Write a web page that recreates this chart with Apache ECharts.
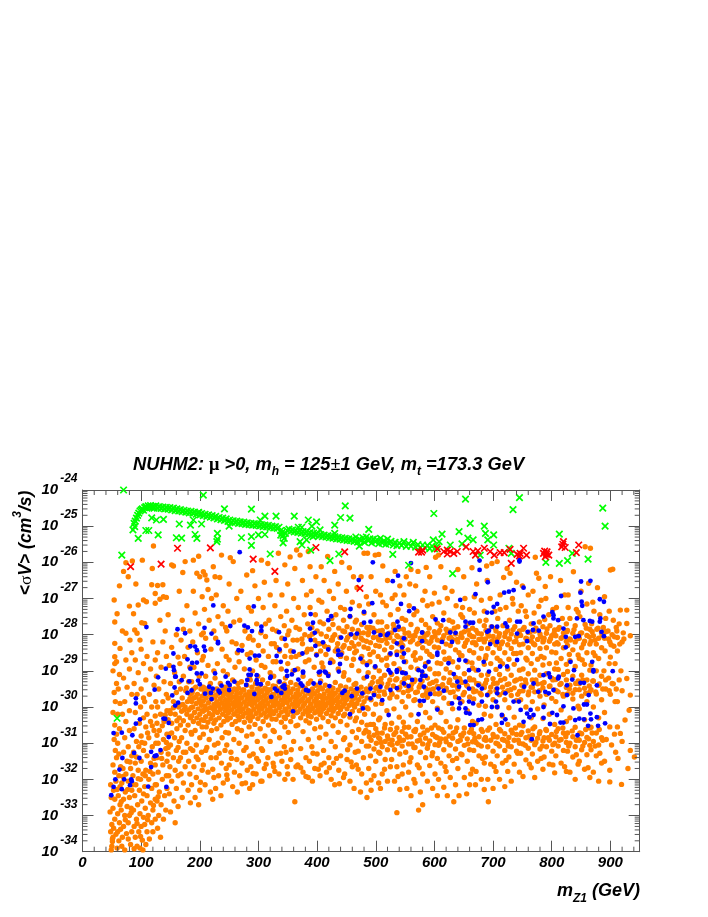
<!DOCTYPE html>
<html>
<head>
<meta charset="utf-8">
<script src="https://cdn.jsdelivr.net/npm/echarts@6/dist/echarts.min.js"></script>
<style>
html,body{margin:0;padding:0;background:#fff}
#main{width:708px;height:917px}
</style>
</head>
<body>
<div id="main"></div>
<script>
const xTicks = [0,100,200,300,400,500,600,700,800,900]
const decades = [-34,-33,-32,-31,-30,-29,-28,-27,-26,-25,-24]
// flat lists: mZ1, then -100*log10(<sigma v>)
const greenRaw = [
70,2400,206,2414,242,2452,288,2453,89,2501,95,2534,108,2512,113,2512,129,2524,118,2477,126,2483,138,2481,160,2532,169,2533,165,2494,184,2497,192,2523,195,2534,189,2483,198,2462,203,2494,230,2520,230,2536,229,2543,250,2500,271,2532,288,2529,288,2553,300,2524,311,2523,303,2483,311,2472,330,2472,320,2577,342,2546,338,2525,361,2472,368,2503,374,2503,371,2543,382,2538,374,2552,389,2566,385,2483,391,2500,399,2488,393,2529,405,2510,430,2497,440,2476,448,2444,456,2478,430,2520,437,2577,422,2595,67,2580,59,3031,
653,2425,745,2421,734,2454,599,2465,887,2450,891,2500,661,2492,685,2500,687,2520,701,2524,691,2538,701,2552,642,2515,657,2533,666,2538,647,2549,613,2522,488,2509,472,2555,813,2522,529,2578,556,2608,631,2631,678,2580,727,2561,731,2575,790,2600,813,2603,827,2595,835,2575,862,2591,627,2552,598,2538,608,2543,
86,2510,88,2492,90,2486,92,2478,94,2470,96,2464,98,2458,100,2455,102,2452,104,2456,106,2449,108,2446,110,2450,112,2444,114,2448,116,2443,118,2449,120,2445,122,2450,125,2444,128,2450,131,2446,134,2451,137,2447,140,2452,143,2448,146,2453,149,2449,152,2455,155,2450,158,2457,161,2452,164,2458,167,2454,170,2460,173,2456,176,2461,179,2458,182,2463,185,2459,188,2464,191,2461,194,2467,197,2463,200,2469,203,2465,206,2471,209,2467,212,2473,215,2469,218,2475,221,2471,224,2477,227,2473,230,2480,233,2476,236,2482,239,2478,242,2484,245,2480,248,2487,251,2483,254,2489,257,2485,260,2490,263,2486,266,2492,269,2488,272,2493,275,2489,278,2495,281,2491,284,2496,287,2492,290,2497,293,2493,296,2498,299,2494,302,2499,305,2496,308,2501,311,2497,314,2502,317,2498,320,2504,323,2500,326,2505,329,2501,332,2506,335,2503,338,2512,340,2518,342,2526,344,2534,346,2520,349,2512,352,2508,355,2514,358,2510,361,2516,364,2512,367,2517,370,2513,373,2519,376,2515,379,2520,382,2516,385,2522,388,2518,391,2523,394,2519,397,2525,400,2521,403,2527,406,2523,409,2529,412,2525,415,2530,418,2526,421,2532,424,2528,427,2533,430,2529,433,2535,436,2531,439,2536,442,2532,445,2538,448,2534,451,2539,454,2535,457,2540,460,2536,463,2542,466,2530,469,2544,472,2536,475,2540,478,2532,481,2545,484,2530,487,2540,490,2535,493,2546,496,2536,499,2543,502,2538,505,2548,508,2534,511,2546,514,2540,517,2550,520,2536,523,2548,526,2542,530,2552,533,2545,536,2554,540,2547,544,2553,548,2543,552,2556,556,2548,560,2555,564,2545,568,2558,572,2551,576,2560,580,2552,584,2560,588,2553,592,2562,596,2555,600,2563,604,2557]
const redRaw = [82,2612,134,2605,162,2561,218,2560,291,2591,328,2625,398,2559,447,2571,473,2672,573,2572,580,2566,605,2563,616,2570,622,2577,627,2570,633,2575,639,2570,654,2557,666,2570,670,2580,674,2568,685,2561,695,2570,702,2580,712,2573,719,2573,729,2564,731,2603,741,2578,746,2575,752,2561,757,2580,786,2575,792,2571,789,2584,795,2580,820,2543,817,2557,823,2559,842,2573,846,2552,622,2566,788,2569,745,2582,791,2578,819,2550,578,2572]
const blueRaw = [268,2572,223,2719,292,2722,109,2779,162,2785,175,2796,208,2781,220,2797,252,2776,276,2775,282,2780,289,2790,305,2778,305,2789,335,2793,345,2812,389,2743,393,2767,388,2783,396,2795,419,2760,424,2749,457,2729,456,2749,441,2808,458,2799,389,2815,397,2831,410,2821,419,2841,436,2844,436,2856,441,2855,155,2852,184,2832,192,2833,195,2843,207,2833,209,2844,231,2820,266,2843,272,2844,231,2824,285,2866,294,2858,301,2858,331,2859,336,2841,360,2847,375,2852,399,2857,179,2868,187,2878,195,2877,142,2894,155,2889,156,2898,184,2894,195,2907,226,2907,129,2918,159,2916,285,2896,297,2912,320,2920,338,2875,348,2900,362,2898,376,2902,403,2904,413,2902,422,2878,439,2881,
91,2976,91,2990,123,2952,158,2916,169,2926,153,2968,157,2946,163,2988,158,2996,179,2961,186,2954,182,2929,197,2927,200,2937,203,2907,209,2963,219,2961,216,2944,222,2949,220,2978,232,2955,234,2960,237,2941,248,2933,251,2939,250,2953,259,2930,244,2916,279,2939,281,2925,283,2911,287,2911,293,2964,297,2926,298,2935,304,2937,321,2916,322,2972,328,2949,332,2955,336,2930,341,2944,344,2940,345,2949,339,2961,349,2914,357,2910,359,3012,368,2924,372,2935,375,2941,381,2953,385,2955,376,2905,405,2902,405,2933,394,2935,415,2905,419,2914,421,2942,437,2902,443,2961,447,2955,456,3020,459,2970,
98,3034,91,3046,53,3072,67,3071,85,3078,138,3032,141,3033,147,3044,147,3083,117,3124,88,3127,97,3141,123,3136,126,3134,133,3119,68,3141,117,3166,63,3173,56,3200,71,3200,83,3200,84,3205,81,3216,53,3221,67,3227,112,3220,143,3221,49,3244,
495,2600,560,2602,677,2595,677,2621,745,2598,745,2594,529,2652,538,2637,471,2649,691,2655,644,2704,670,2688,719,2684,727,2681,735,2677,752,2670,850,2653,866,2651,816,2693,849,2684,494,2713,707,2715,701,2723,698,2739,690,2739,543,2715,557,2735,565,2727,480,2737,851,2709,852,2720,882,2702,889,2709,801,2738,803,2746,786,2750,811,2760,803,2755,843,2755,854,2760,865,2762,869,2764,883,2755,882,2764,491,2764,480,2767,537,2764,539,2778,533,2787,579,2794,602,2758,615,2760,627,2794,636,2795,653,2764,653,2778,661,2767,666,2767,690,2792,693,2789,698,2778,707,2778,721,2769,741,2764,746,2764,724,2778,741,2797,759,2792,768,2787,778,2789,769,2769,820,2783,824,2806,840,2806,846,2804,885,2792,889,2804,521,2797,497,2794,468,2797,508,2801,519,2801,548,2810,579,2818,613,2820,605,2850,605,2856,630,2820,695,2826,707,2820,758,2818,824,2835,545,2835,525,2852,536,2856,548,2852,536,2824,474,2866,485,2884,499,2888,522,2898,536,2898,548,2875,573,2898,590,2875,584,2888,624,2879,642,2870,653,2872,659,2898,684,2875,675,2898,693,2902,712,2888,724,2888,741,2870,795,2907,812,2916,838,2898,832,2875,869,2875,871,2898,
545,2905,525,2905,536,2903,551,2907,579,2902,579,2914,585,2914,576,2925,582,2944,562,2925,548,2935,556,2942,536,2948,525,2953,508,2944,497,2967,491,2949,468,2949,477,2962,491,2976,511,2981,522,3022,478,3004,575,2983,582,2983,593,2964,573,3020,605,3007,607,2949,616,2955,633,2909,639,2930,642,2944,653,2930,659,2949,675,2940,681,2949,690,2967,642,2976,630,2990,644,2990,642,3004,653,3004,659,2985,666,2990,654,3016,660,3018,661,3050,667,3050,675,3036,681,3034,681,2985,698,3000,705,2985,707,3000,715,3022,721,3034,715,3044,707,2949,707,2962,721,2962,735,2985,744,2985,747,3008,758,3018,764,3008,752,3041,762,3028,769,3022,766,3089,777,2958,753,2944,769,2935,786,2912,797,2917,811,2921,789,2958,795,2962,803,2953,786,3000,801,3016,786,3030,797,3047,809,3022,815,3043,820,3043,820,2998,826,2967,837,3004,844,3078,840,3036,847,3032,855,3034,855,2993,860,2993,866,3018,867,3034,862,3052,879,3052,877,3028,891,3045,871,2902,904,2901,849,2933,855,2933,877,2940,863,2967,826,2940,835,2924,485,2916]
const orangeRaw = [
// 45-65
54,2704,63,2665,59,2742,55,2765,55,2824,55,2861,64,2838,48,3215,49,3250,47,3290,50,3325,48,3345,52,3360,50,3385,49,3395,51,3365,53,3335,55,3310,52,3280,55,3255,53,3230,57,3205,55,3180,52,3160,58,3140,56,3120,54,3090,58,3075,55,3050,52,3015,56,2985,54,2960,58,2935,52,2900,55,2880,59,3390,62,3370,60,3345,63,3320,60,3295,64,3270,61,3245,64,3220,62,3190,65,3165,62,3130,60,3100,63,3060,60,3020,64,2990,61,2950,63,2910,58,2875,
// 65-85
70,2625,74,2601,85,2596,78,2640,80,2721,74,2796,81,2815,67,3385,72,3395,68,3360,75,3350,70,3330,78,3320,72,3300,66,3285,76,3275,70,3255,80,3250,73,3235,67,3210,78,3205,74,3185,69,3170,82,3170,76,3150,70,3125,84,3135,78,3110,72,3085,80,3065,74,3040,68,3020,80,3010,72,2985,84,2965,76,2945,70,2920,80,2895,74,2870,84,2850,68,2790,82,3380,78,3365,84,3345,80,3300,83,3280,84,3230,
// 85-105
102,2594,91,2660,87,2742,95,2718,89,2787,101,2767,93,2796,98,2815,88,3392,93,3385,98,3390,103,3395,90,3360,96,3345,102,3368,88,3330,100,3330,92,3310,98,3295,104,3305,87,3285,94,3270,101,3260,89,3245,97,3230,104,3240,91,3215,99,3200,86,3190,95,3175,103,3185,90,3155,100,3150,87,3125,96,3110,104,3120,92,3095,100,3080,88,3060,97,3045,104,3030,90,3015,99,3000,104,2975,93,2965,88,2935,100,2950,95,2905,104,2880,90,2870,100,2840,
// 105-125
121,2555,119,2617,118,2662,124,2686,124,2713,109,2709,104,2704,106,2769,108,3380,114,3365,120,3345,110,3345,118,3320,106,3325,124,3310,112,3300,120,3285,107,3280,116,3265,124,3255,110,3245,118,3225,106,3220,124,3215,113,3200,120,3185,108,3175,116,3155,124,3160,110,3135,119,3110,106,3100,125,3100,113,3085,122,3065,108,3055,116,3040,124,3025,110,3020,118,3000,125,2985,106,2985,114,2965,122,2940,108,2925,116,2895,124,2870,110,2860,120,2820,
// 125-145
128,2664,137,2662,138,2695,132,2702,143,2697,133,3360,128,3335,138,3310,130,3300,142,3285,134,3270,127,3260,140,3245,131,3235,144,3225,126,3215,136,3200,143,3190,129,3180,137,3160,144,3150,127,3140,134,3125,142,3115,129,3100,138,3090,144,3075,131,3065,127,3045,139,3040,133,3020,144,3010,128,3000,137,2985,143,2965,130,2950,139,2930,126,2915,134,2890,143,2860,128,2850,137,2820,141,2790,132,2760,
// 145-165
152,2607,155,2610,146,2745,160,2800,152,2835,163,2862,148,2885,157,2905,165,2930,150,2935,160,2960,146,2975,155,2985,164,3000,149,3010,158,3020,146,3035,165,3030,152,3045,161,3060,148,3075,157,3085,165,3095,150,3105,160,3120,146,3130,155,3140,164,3150,149,3165,158,3175,147,3190,163,3190,152,3205,160,3225,148,3240,156,3260,163,3275,150,3290,158,3320,
// 165-185
175,2598,171,2628,189,2594,165,2680,178,2720,170,2760,183,2790,168,2815,180,2835,174,2860,166,2880,183,2890,172,2915,181,2930,167,2950,176,2955,184,2965,170,2975,179,2985,166,2995,175,3000,185,3002,169,3012,178,3020,184,3030,172,3038,167,3050,180,3050,175,3065,185,3070,169,3085,178,3100,184,3115,172,3125,167,3140,181,3150,175,3165,168,3185,183,3185,172,3210,180,3230,170,3250,184,3265,
// 185-205
198,2583,195,2630,200,2640,189,2680,204,2695,192,2740,198,2770,203,2800,188,2820,196,2850,204,2870,190,2890,199,2915,186,2930,193,2945,202,2950,187,2960,196,2965,204,2970,190,2975,199,2980,186,2985,194,2990,203,2995,188,3000,197,3005,204,3010,191,3015,200,3020,186,3025,195,3030,203,3035,189,3040,198,3045,204,3055,192,3065,186,3075,200,3085,194,3105,188,3120,203,3125,197,3145,190,3165,204,3175,194,3195,186,3215,200,3230,192,3250,198,3270,
// 205-225
206,2626,209,2635,212,2649,226,2640,223,2612,214,2675,220,2700,208,2730,216,2760,224,2790,210,2810,219,2840,206,2860,214,2885,224,2900,210,2915,218,2935,206,2945,213,2950,222,2955,208,2960,217,2965,225,2970,211,2975,220,2978,206,2983,215,2988,224,2993,209,2997,218,3002,212,3006,225,3010,206,3012,216,3018,222,3022,210,3027,219,3032,207,3037,214,3042,224,3045,211,3055,220,3065,206,3075,216,3090,225,3105,210,3120,219,3140,206,3160,214,3180,224,3195,209,3215,218,3235,222,3255,
// 225-245
234,2642,237,2580,252,2587,228,2690,240,2720,231,2750,244,2780,227,2810,238,2840,245,2860,230,2880,240,2900,226,2920,235,2935,243,2945,229,2950,238,2955,245,2958,231,2963,240,2968,226,2973,235,2977,244,2980,229,2985,238,2988,245,2992,232,2996,241,3000,226,3003,235,3007,244,3010,230,3015,239,3020,245,3025,233,3030,227,3036,241,3040,236,3050,229,3060,244,3070,238,3085,231,3100,243,3120,228,3140,237,3155,245,3170,232,3190,240,3210,227,3225,236,3245,
// 245-265
257,2598,250,2660,263,2700,248,2735,258,2765,246,2790,255,2820,264,2850,250,2870,260,2890,247,2910,256,2925,265,2935,250,2945,259,2950,246,2955,254,2960,263,2963,249,2968,258,2972,265,2975,252,2980,261,2983,247,2987,256,2990,264,2993,250,2997,259,3000,246,3004,254,3008,263,3012,249,3016,258,3020,265,3025,252,3030,247,3035,261,3040,255,3048,264,3060,249,3072,258,3090,246,3105,253,3125,263,3145,250,3160,259,3180,247,3200,256,3220,264,3235,
// 265-285
280,2635,270,2680,283,2725,268,2760,277,2790,285,2805,272,2830,281,2855,267,2875,276,2895,285,2915,271,2930,280,2940,266,2948,275,2953,284,2958,269,2962,278,2966,285,2970,272,2974,281,2978,267,2982,276,2986,284,2990,270,2993,279,2997,267,3001,274,3005,283,3009,270,3013,278,3017,285,3021,273,3026,282,3030,267,3035,276,3042,284,3055,271,3065,280,3080,267,3100,275,3120,285,3135,272,3155,281,3175,268,3190,278,3210,285,3225,
// 285-305
290,2623,305,2594,294,2665,300,2700,288,2735,297,2770,304,2795,291,2815,300,2830,287,2850,296,2870,305,2885,290,2900,299,2915,286,2925,295,2935,303,2940,289,2945,298,2950,305,2955,292,2958,301,2962,287,2966,296,2970,304,2973,290,2977,299,2980,286,2985,294,2988,303,2992,289,2995,298,2999,305,3002,292,3006,301,3010,287,3014,296,3018,304,3022,290,3027,299,3032,286,3038,294,3048,303,3060,289,3075,298,3095,305,3115,291,3130,300,3150,287,3165,296,3185,304,3205,290,3215,
// 305-325
316,2603,310,2655,320,2690,308,2725,318,2760,324,2785,312,2805,322,2825,308,2845,317,2860,325,2875,311,2890,320,2905,307,2925,316,2935,325,2942,311,2948,320,2952,306,2957,315,2960,324,2965,310,2969,319,2972,325,2976,313,2980,322,2983,307,2987,316,2990,325,2994,311,2997,320,3001,306,3005,315,3009,324,3013,310,3017,319,3022,313,3028,323,3033,308,3040,317,3050,325,3065,311,3080,320,3095,307,3120,316,3140,325,3155,310,3170,319,3190,306,3205,
// 325-345
334,2575,345,2607,330,2650,340,2690,328,2720,338,2750,344,2775,331,2790,340,2810,327,2825,336,2845,345,2860,330,2875,339,2895,326,2915,335,2930,344,2936,329,2943,338,2948,345,2952,331,2957,340,2961,326,2965,335,2969,344,2973,330,2977,339,2981,345,2985,332,2989,341,2993,327,2997,336,3001,345,3005,330,3010,339,3014,326,3018,335,3023,344,3028,330,3034,339,3042,345,3055,327,3068,336,3085,344,3110,331,3130,340,3150,326,3165,335,3185,345,3200,
// 345-365
354,2585,365,2566,362,2617,350,2660,360,2700,348,2735,357,2760,364,2780,350,2800,359,2815,347,2830,355,2845,364,2860,350,2880,359,2900,346,2920,355,2932,364,2938,350,2945,359,2950,347,2955,355,2960,364,2964,350,2968,359,2972,346,2976,354,2980,363,2984,349,2988,358,2992,365,2996,352,3000,361,3004,347,3008,356,3012,365,3016,350,3021,359,3026,346,3032,355,3040,364,3052,351,3070,360,3095,347,3125,355,3145,364,3165,350,3185,359,3200,362,3262,
// 365-385
371,2580,385,2570,375,2650,382,2690,368,2725,378,2745,384,2770,370,2785,379,2800,366,2815,375,2825,384,2840,370,2855,380,2875,367,2895,376,2915,385,2935,371,2942,380,2948,367,2953,376,2958,385,2962,370,2966,379,2970,366,2974,375,2978,384,2982,370,2986,379,2990,367,2994,376,2998,385,3002,371,3006,380,3010,367,3014,376,3019,385,3024,372,3030,381,3038,367,3050,376,3068,385,3090,372,3115,381,3140,367,3160,376,3180,385,3195,
// 385-405
388,2612,398,2640,390,2680,403,2705,388,2725,397,2745,405,2765,391,2780,400,2790,387,2805,396,2815,404,2825,390,2840,399,2855,386,2870,395,2890,404,2910,389,2928,398,2940,405,2946,392,2950,401,2955,387,2960,396,2964,404,2968,390,2972,399,2976,386,2980,395,2984,404,2988,389,2992,398,2996,405,3000,392,3004,401,3008,387,3012,396,3016,405,3021,390,3027,399,3034,387,3044,396,3060,404,3085,391,3110,400,3130,387,3150,396,3170,405,3190,392,3205,
// 405-425
407,2612,418,2584,412,2650,421,2680,408,2710,417,2735,425,2755,411,2770,420,2785,407,2798,416,2805,424,2815,410,2825,419,2835,406,2845,415,2855,424,2870,410,2890,419,2910,406,2928,414,2940,423,2945,409,2950,418,2955,425,2960,412,2964,421,2968,407,2972,416,2976,424,2980,410,2984,419,2988,406,2992,415,2996,424,3000,411,3004,420,3008,407,3013,416,3018,424,3024,410,3030,419,3040,406,3055,415,3075,424,3095,411,3120,420,3140,407,3160,416,3180,424,3200,
// 425-445
430,2625,442,2600,436,2660,428,2700,440,2725,432,2745,445,2760,427,2772,437,2782,444,2790,430,2800,439,2808,426,2815,435,2825,444,2835,431,2845,440,2860,427,2875,436,2895,445,2915,431,2932,440,2942,427,2948,436,2953,445,2957,431,2962,440,2966,426,2970,435,2974,444,2978,430,2982,439,2986,426,2990,435,2994,444,2998,431,3003,440,3007,427,3012,436,3018,445,3024,431,3030,440,3040,427,3052,436,3070,445,3090,431,3110,440,3135,428,3155,437,3175,445,3195,430,3215,
// 445-465
455,2615,462,2640,450,2680,460,2710,447,2730,456,2750,465,2765,451,2778,460,2785,447,2792,456,2800,465,2808,450,2815,459,2822,446,2830,455,2838,464,2850,450,2865,459,2885,446,2905,454,2925,463,2938,449,2945,458,2950,465,2955,452,2960,461,2964,447,2968,456,2972,464,2976,450,2980,459,2985,447,2990,455,2995,464,3000,451,3005,460,3012,447,3020,456,3028,465,3038,451,3050,460,3068,447,3085,456,3105,465,3125,451,3145,460,3165,447,3185,456,3205,463,3225,
// 465-485
480,2575,486,2575,475,2640,468,2670,484,2695,472,2720,480,2740,467,2760,476,2772,485,2780,470,2788,479,2795,466,2802,475,2810,484,2818,471,2826,480,2834,467,2845,476,2860,485,2880,471,2900,480,2920,466,2935,475,2945,484,2950,470,2955,479,2960,467,2965,476,2970,485,2975,471,2980,480,2985,468,2990,477,2996,485,3002,472,3010,481,3020,467,3030,476,3042,485,3050,471,3062,480,3072,467,3085,476,3095,484,3108,470,3122,479,3140,467,3160,476,3185,484,3210,474,3235,485,3250,
// 485-505
499,2580,505,2578,492,2640,500,2680,488,2715,497,2745,504,2765,490,2780,499,2790,487,2800,496,2808,505,2815,491,2822,500,2830,487,2838,496,2848,504,2860,490,2875,499,2890,487,2905,496,2918,504,2930,491,2940,500,2948,488,2955,497,2962,505,2970,492,2980,500,2992,487,3005,496,3020,505,3035,491,3048,500,3060,488,3070,497,3078,505,3085,492,3092,501,3100,488,3108,497,3116,505,3125,491,3135,500,3150,488,3170,497,3190,505,3210,492,3230,
// 505-525
512,2610,520,2650,508,2690,518,2720,525,2745,510,2765,519,2778,506,2790,515,2800,524,2808,510,2816,519,2824,506,2832,515,2842,524,2855,510,2870,519,2885,506,2900,515,2912,524,2925,510,2935,519,2945,506,2955,515,2965,524,2975,510,2990,519,3010,507,3030,516,3048,525,3062,511,3072,520,3080,507,3088,516,3095,524,3102,511,3110,520,3118,507,3128,516,3145,525,3165,511,3185,520,3205,508,3225,
// 525-545
533,2625,541,2665,528,2700,538,2730,545,2755,530,2772,539,2785,527,2795,536,2803,545,2810,531,2818,540,2826,527,2835,536,2848,545,2862,531,2880,540,2895,527,2910,536,2922,545,2932,530,2942,539,2952,527,2962,536,2972,545,2985,531,3005,540,3028,527,3045,536,3058,545,3068,531,3076,540,3084,528,3092,537,3100,545,3108,532,3118,541,3130,527,3145,536,3165,545,3185,532,3205,541,3228,536,3292,
// 545-565
552,2640,560,2620,548,2690,557,2720,565,2745,551,2760,560,2772,547,2785,556,2795,565,2803,550,2812,559,2820,546,2830,555,2842,564,2858,551,2875,560,2890,547,2905,556,2918,565,2930,551,2940,560,2950,547,2960,556,2970,565,2982,551,3000,560,3022,547,3042,556,3056,565,3066,551,3075,560,3082,547,3092,556,3102,565,3112,551,3125,560,3140,547,3160,556,3180,565,3200,553,3225,560,3245,
// 565-585
572,2625,586,2614,568,2665,580,2705,570,2735,578,2760,585,2772,571,2785,580,2795,567,2803,576,2810,585,2818,571,2826,580,2836,567,2850,576,2865,585,2880,571,2895,580,2910,567,2925,576,2938,585,2948,571,2958,580,2968,567,2980,576,2995,585,3015,571,3040,580,3055,567,3068,576,3078,585,3086,571,3094,580,3102,567,3112,576,3125,585,3140,571,3160,580,3185,567,3210,576,3235,580,3270,573,3285,
// 585-605
602,2586,592,2640,600,2685,588,2720,597,2750,605,2768,591,2782,600,2792,587,2800,596,2808,605,2815,591,2824,600,2834,587,2846,596,2860,605,2878,592,2895,601,2908,588,2920,597,2932,605,2943,592,2953,601,2963,588,2973,597,2985,605,3003,592,3030,601,3050,588,3064,597,3076,605,3085,592,3094,601,3104,588,3114,597,3126,605,3142,592,3162,601,3185,588,3205,597,3225,605,3245,
// 605-625
607,2580,611,2612,618,2670,608,2710,616,2740,625,2760,611,2775,620,2785,607,2795,616,2803,625,2810,611,2818,620,2826,607,2836,616,2848,625,2865,611,2880,620,2895,607,2908,616,2920,625,2932,611,2943,620,2953,607,2964,616,2975,625,2990,611,3015,620,3040,607,3058,616,3070,625,3080,611,3088,620,3096,607,3106,616,3118,625,3135,611,3155,620,3178,607,3200,616,3222,622,3245,
// 625-645
640,2620,630,2680,637,2720,645,2745,631,2765,640,2778,627,2790,636,2798,645,2805,631,2813,640,2820,627,2830,636,2842,645,2858,631,2875,640,2890,627,2905,636,2918,645,2930,631,2940,640,2950,627,2960,636,2972,645,2985,631,3005,640,3035,627,3055,636,3068,645,3078,631,3086,640,3095,627,3105,636,3116,645,3130,631,3148,640,3170,627,3195,636,3215,642,3245,633,3262,
// 645-665
650,2640,664,2615,652,2700,660,2730,648,2752,657,2770,665,2782,651,2792,660,2800,647,2808,656,2815,665,2822,651,2832,660,2844,647,2858,656,2875,665,2892,651,2908,660,2920,647,2932,656,2942,665,2950,651,2960,660,2972,647,2985,656,3010,665,3040,651,3058,660,3070,647,3080,656,3088,665,3096,651,3106,660,3118,647,3132,656,3150,665,3172,651,3195,660,3215,655,3240,
// 665-685
689,2610,672,2660,680,2705,668,2740,677,2762,685,2775,671,2788,680,2798,667,2806,676,2813,685,2820,671,2828,680,2838,667,2850,676,2865,685,2882,671,2898,680,2912,667,2925,676,2936,685,2946,671,2956,680,2966,667,2978,676,2995,685,3020,671,3045,680,3062,667,3074,676,3082,685,3090,671,3098,680,3108,667,3120,676,3135,685,3155,671,3178,680,3200,685,3228,670,3215,
// 685-705
698,2603,690,2650,695,2700,703,2735,688,2760,697,2778,705,2790,691,2798,700,2805,687,2812,696,2820,705,2828,691,2838,700,2850,687,2866,696,2880,705,2896,691,2910,700,2922,687,2934,696,2945,705,2955,691,2966,700,2980,687,2998,696,3025,705,3048,691,3064,700,3076,687,3084,696,3092,705,3100,691,3110,700,3122,687,3138,696,3158,705,3178,691,3200,700,3225,692,3262,
// 705-725
707,2598,724,2617,718,2642,712,2690,722,2725,708,2755,717,2775,725,2788,711,2797,720,2805,707,2813,716,2820,725,2828,711,2838,720,2850,707,2865,716,2880,725,2895,711,2910,720,2922,707,2934,716,2945,725,2955,711,2966,720,2980,707,3000,716,3025,725,3048,711,3062,720,3074,707,3083,716,3090,725,3098,711,3108,720,3120,707,3135,716,3155,725,3178,711,3200,720,3220,
// 725-745
729,2630,740,2655,733,2700,743,2735,728,2760,737,2778,745,2790,731,2798,740,2805,727,2812,736,2820,745,2828,731,2838,740,2852,727,2868,736,2882,745,2898,731,2912,740,2925,727,2936,736,2947,745,2957,731,2968,740,2982,727,3002,736,3028,745,3050,731,3064,740,3076,727,3084,736,3092,745,3100,731,3110,740,3122,727,3138,736,3158,745,3180,731,3205,
// 745-765
772,2586,750,2665,760,2690,748,2720,757,2750,765,2770,751,2785,760,2794,747,2802,756,2810,765,2818,751,2826,760,2836,747,2850,756,2865,765,2880,751,2895,760,2908,747,2922,756,2934,765,2945,751,2955,760,2966,747,2980,756,3000,765,3030,751,3052,760,3066,747,3076,756,3085,765,3092,751,3102,760,3114,747,3128,756,3146,765,3168,751,3192,
// 765-785
774,2630,778,2644,768,2680,782,2705,770,2740,779,2765,785,2778,771,2790,780,2798,767,2806,776,2813,785,2820,771,2828,780,2838,767,2852,776,2868,785,2884,771,2898,780,2912,767,2925,776,2936,785,2947,771,2958,780,2970,767,2985,776,3005,785,3032,771,3055,780,3068,767,3078,776,3086,785,3094,771,3104,780,3116,767,3130,776,3150,785,3172,771,3195,
// 785-805
789,2667,798,2640,790,2700,802,2730,788,2758,797,2775,805,2787,791,2796,800,2803,787,2810,796,2818,805,2826,791,2836,800,2848,787,2864,796,2880,805,2895,791,2908,800,2920,787,2932,796,2943,805,2953,791,2964,800,2976,787,2994,796,3020,805,3048,791,3065,800,3076,787,3085,796,3092,805,3100,791,3110,800,3122,787,3138,796,3158,805,3182,
// 805-825
815,2650,822,2690,808,2725,818,2755,825,2770,811,2785,820,2795,807,2803,816,2810,825,2818,811,2826,820,2836,807,2850,816,2866,825,2882,811,2896,820,2910,807,2924,816,2935,825,2946,811,2958,820,2970,807,2985,816,3008,825,3040,811,3060,820,3072,807,3082,816,3090,825,3098,811,3108,820,3120,807,3135,816,3155,825,3178,
// 825-845
837,2626,828,2690,842,2730,831,2755,840,2775,827,2788,836,2796,845,2804,831,2812,840,2820,827,2830,836,2842,845,2856,831,2872,840,2888,827,2902,836,2915,845,2928,831,2940,840,2952,827,2964,836,2978,845,2998,831,3030,840,3056,827,3072,836,3082,845,3090,831,3100,840,3110,827,3122,836,3138,845,3158,831,3180,840,3200,
// 845-865
857,2557,863,2658,850,2680,860,2715,848,2750,857,2772,865,2785,851,2795,860,2802,847,2810,856,2818,865,2826,851,2836,860,2850,847,2866,856,2882,865,2898,851,2912,860,2925,847,2936,856,2948,865,2958,851,2970,860,2985,847,3005,856,3035,865,3058,851,3074,860,3084,847,3092,856,3098,865,3106,851,3118,860,3132,847,3150,856,3172,865,3195,
// 865-885
866,2561,878,2670,870,2710,882,2745,868,2770,877,2785,885,2795,871,2803,880,2810,867,2818,876,2826,885,2836,871,2850,880,2866,867,2884,876,2900,885,2915,871,2928,880,2940,867,2952,876,2964,885,2980,871,3000,880,3030,867,3056,876,3072,885,3085,871,3095,880,3105,867,3118,876,3135,885,3155,871,3180,880,3205,
// 885-950
900,2621,904,2619,890,2695,898,2735,905,2760,888,2780,896,2790,903,2800,890,2810,899,2820,906,2832,891,2845,900,2862,908,2880,889,2900,897,2920,905,2936,892,2950,900,2965,908,2985,890,3015,899,3055,907,3075,893,3090,902,3105,909,3125,890,3150,899,3175,899,3207,917,2732,928,2732,928,2769,934,2803,915,2770,922,2795,912,2808,920,2820,912,2845,928,2921,918,2900,934,2967,920,2955,912,2985,932,3009,925,3036,912,3055,917,3073,934,3120,941,3138,913,3142,920,3095,919,3214,930,3170]
// second pass over the crowded patches
const orangeExtra = [
51,3372,57,3352,65,3338,73,3312,83,3292,93,3322,99,3358,111,3312,121,3272,129,3248,66,3262,77,3228,86,3215,95,3198,107,3190,115,3178,122,3142,135,3142,146,3112,59,3228,69,3192,81,3152,92,3138,101,3098,111,3072,119,3052,127,3078,136,3052,141,3022,150,3018,155,3002,161,3038,152,3072,163,3112,143,3098,
171,2993,177,2947,183,2977,189,2951,173,3008,181,3008,193,2972,201,2987,207,2948,215,2955,209,3005,223,3005,228,2967,233,2992,242,2962,248,2993,253,2973,262,2953,268,3012,273,2953,283,2972,288,2958,293,2985,302,2956,309,2983,314,2951,318,3011,327,2983,333,2991,343,2962,347,3012,353,2957,361,2992,368,2966,373,2982,378,2951,382,3013,393,2962,398,2983,403,3013,409,2974,413,2992,422,2963,428,3007,433,2982,438,3001,446,2961,452,2973,462,2992,467,2953,
176,3125,194,3138,212,3112,233,3128,254,3142,279,3112,297,3142,313,3158,338,3128,356,3118,372,3168,393,3128,412,3155,433,3142,452,3118,470,3172,201,3208,222,3172,246,3188,272,3212,291,3184,328,3178,349,3165,381,3192,402,3172,421,3168,438,3212,458,3152,
172,2785,206,2795,238,2770,262,2825,283,2810,312,2770,331,2835,352,2790,374,2812,392,2798,401,2825,413,2832,427,2806,434,2838,452,2808,463,2832,472,2796,478,2815,356,2862,382,2848,408,2878,442,2850,462,2868,478,2875,
488,2793,495,2782,503,2807,511,2788,517,2812,523,2796,531,2782,538,2806,543,2822,550,2796,558,2803,563,2815,569,2792,574,2823,582,2808,589,2796,594,2818,601,2804,609,2788,614,2812,622,2794,628,2808,634,2782,639,2813,646,2796,653,2823,658,2788,664,2805,669,2822,674,2796,681,2812,688,2788,693,2804,699,2818,704,2782,710,2805,714,2826,721,2795,728,2812,734,2786,739,2818,746,2802,753,2780,758,2812,763,2793,769,2825,773,2782,781,2806,786,2816,792,2784,798,2811,804,2796,809,2822,813,2780,819,2806,826,2792,832,2815,838,2786,843,2812,849,2796,854,2826,859,2782,864,2806,869,2792,874,2815,879,2782,886,2802,892,2792,897,2812,901,2828,907,2806,911,2790,916,2826,923,2812,
487,2958,494,2932,502,2945,509,2922,514,2958,521,2936,528,2965,534,2925,541,2945,549,2922,555,2955,561,2938,568,2960,574,2945,579,2928,586,2962,592,2936,598,2950,603,2928,609,2962,614,2938,620,2948,626,2925,632,2958,638,2942,643,2922,649,2966,655,2940,661,2925,667,2958,672,2935,678,2962,684,2942,689,2925,695,2958,701,2935,706,2950,713,2926,718,2960,724,2938,730,2952,737,2928,742,2965,749,2940,755,2925,761,2958,767,2945,773,2925,779,2955,784,2935,791,2965,797,2942,802,2925,808,2955,814,2938,819,2965,825,2925,830,2950,836,2962,841,2935,847,2952,853,2925,858,2962,864,2942,870,2928,875,2958,881,2936,887,2950,892,2925,898,2955,903,2935,910,2950,915,2925,
483,3065,489,3082,496,3048,503,3072,509,3098,515,3058,521,3088,528,3105,534,3070,541,3094,549,3056,554,3083,562,3102,568,3062,575,3092,582,3072,589,3104,595,3058,602,3082,609,3098,613,3062,619,3088,626,3104,632,3072,638,3058,644,3092,650,3072,657,3102,663,3062,669,3086,675,3104,682,3068,688,3092,694,3058,701,3082,708,3102,713,3066,719,3092,726,3108,733,3072,738,3058,743,3092,749,3070,755,3106,761,3082,768,3060,773,3098,779,3074,784,3108,790,3062,794,3085,802,3104,808,3068,813,3092,819,3058,824,3082,829,3108,835,3066,842,3092,848,3072,853,3108,858,3062,863,3088,869,3072,874,3108,881,3062,887,3092,
492,3202,515,3172,538,3192,558,3152,574,3168,596,3135,618,3165,638,3142,662,3185,682,3142,702,3165,722,3148,742,3128,762,3158,782,3142,802,3160,822,3165,842,3132,862,3168,882,3128,
512,2710,533,2690,558,2660,584,2680,596,2715,622,2700,648,2725,668,2695,685,2735,712,2730,734,2715,755,2735,778,2722,795,2745,828,2725,845,2738,872,2735,892,2755,910,2780,
490,2855,518,2865,545,2845,568,2870,592,2855,618,2868,642,2850,664,2878,688,2858,712,2872,735,2852,758,2870,782,2860,808,2878,830,2855,852,2870,874,2858,898,2880]

function toPoints(raw) {
  const out = []
  for (let i = 0; i < raw.length; i += 2) out.push([raw[i], -raw[i + 1] / 100])
  return out
}
const yMinor = []
decades.slice(0, -1).forEach((d) => {
  for (let m = 2; m <= 9; m++) yMinor.push(d + Math.log10(m))
})
const xMinor = []
for (let v = 20; v < 950; v += 20) if (v % 100) xMinor.push(v)

const labelFont = { fontFamily: 'Liberation Sans', fontWeight: 'bold', fontStyle: 'italic', color: '#000' }
const tickColor = '#555'
const crossPath = 'path://M0 0L10 10M10 0L0 10'
const chart = echarts.init(document.getElementById('main'))
function crossSeries(name, raw, color) {
  return {
    name, type: 'scatter', symbol: crossPath, symbolSize: 6.5, data: toPoints(raw),
    itemStyle: { color: 'none', borderColor: color, borderWidth: 1.7, opacity: 1 }, z: 4, clip: false,
  }
}
chart.setOption({
  animation: false,
  title: {
    left: 133, top: 452, padding: 0,
    text: '{b|NUHM2:} {s|μ} {b|>0, m}{u|h}{b| = 125}{s|±}{b|1 GeV, m}{u|t}{b| =173.3 GeV}',
    textStyle: {
      rich: {
        b: { ...labelFont, fontSize: 18.3, lineHeight: 26 },
        s: { fontFamily: 'Liberation Serif', fontSize: 18.3, color: '#000', lineHeight: 26 },
        u: { ...labelFont, fontSize: 12, lineHeight: 14, verticalAlign: 'bottom' },
      },
    },
  },
  grid: { left: 82.5, right: 68.3, top: 490, bottom: 65.3, outerBoundsMode: 'none' },
  xAxis: [0, 1].map((i) => ({
    type: 'value', min: 0, max: 950, interval: 100, position: i ? 'top' : 'bottom',
    axisLine: { show: true, onZero: false, lineStyle: { color: tickColor, width: 1 } },
    axisTick: { inside: true, length: 11, customValues: xTicks, lineStyle: { color: tickColor } },
    splitLine: { show: false },
    axisLabel: i ? { show: false } : { ...labelFont, fontSize: 15, margin: 4, customValues: xTicks },
  })),
  yAxis: [0, 1].map((i) => ({
    type: 'value', min: -34, max: -24, interval: 1, position: i ? 'right' : 'left',
    axisLine: { show: true, onZero: false, lineStyle: { color: tickColor, width: 1 } },
    axisTick: { inside: true, length: 11, lineStyle: { color: tickColor } },
    splitLine: { show: false },
    axisLabel: i ? { show: false } : {
      margin: 5, showMinLabel: true, showMaxLabel: true,
      formatter: (v) => `{a|10}{e|${v}}`,
      rich: {
        a: { ...labelFont, fontSize: 15, lineHeight: 34 },
        e: { ...labelFont, fontSize: 12, lineHeight: 16, verticalAlign: 'top', padding: [0, 0, 0, 2] },
      },
    },
  })),
  graphic: [
    {
      type: 'text', x: 26, y: 543, rotation: Math.PI / 2,
      style: {
        text: '{b|<}{s|σ}{b|V> (cm}{p|3}{b|/s)}', align: 'center', verticalAlign: 'middle',
        rich: {
          b: { ...labelFont, fontSize: 17.5, lineHeight: 28 },
          s: { fontFamily: 'Liberation Serif', fontSize: 17.5, color: '#000', lineHeight: 28 },
          p: { ...labelFont, fontSize: 12, lineHeight: 14, verticalAlign: 'top' },
        },
      },
    },
    {
      type: 'text', x: 640, y: 891,
      style: {
        text: '{b|m}{u|Z1}{b| (GeV)}', align: 'right', verticalAlign: 'middle',
        rich: {
          b: { ...labelFont, fontSize: 18, lineHeight: 28 },
          u: { ...labelFont, fontSize: 12, lineHeight: 14, verticalAlign: 'bottom' },
        },
      },
    },
  ],
  series: [
    {
      type: 'custom', silent: true, z: 5, data: yMinor.map((v) => [0, v]), clip: false,
      renderItem: (params, api) => {
        const v = api.value(1)
        const l = api.coord([0, v])
        const r = api.coord([950, v])
        const st = { stroke: tickColor, lineWidth: 1 }
        return {
          type: 'group',
          children: [
            { type: 'line', shape: { x1: l[0], y1: l[1], x2: l[0] + 5, y2: l[1] }, style: st },
            { type: 'line', shape: { x1: r[0], y1: r[1], x2: r[0] - 5, y2: r[1] }, style: st },
          ],
        }
      },
    },
    {
      type: 'custom', silent: true, z: 5, data: xMinor.map((v) => [v, -34]), clip: false,
      renderItem: (params, api) => {
        const v = api.value(0)
        const b = api.coord([v, -34])
        const t = api.coord([v, -24])
        const st = { stroke: tickColor, lineWidth: 1 }
        return {
          type: 'group',
          children: [
            { type: 'line', shape: { x1: b[0], y1: b[1], x2: b[0], y2: b[1] - 5 }, style: st },
            { type: 'line', shape: { x1: t[0], y1: t[1], x2: t[0], y2: t[1] + 5 }, style: st },
          ],
        }
      },
    },
    { name: 'orange', type: 'scatter', symbolSize: 5.4, data: toPoints(orangeRaw.concat(orangeExtra)), itemStyle: { color: '#ff8000', opacity: 1 }, z: 2 },
    { name: 'blue', type: 'scatter', symbolSize: 4.8, data: toPoints(blueRaw), itemStyle: { color: '#0000ff', opacity: 1 }, z: 3 },
    crossSeries('green', greenRaw, '#00ff00'),
    crossSeries('red', redRaw, '#ff0000'),
  ],
})
</script>
</body>
</html>
